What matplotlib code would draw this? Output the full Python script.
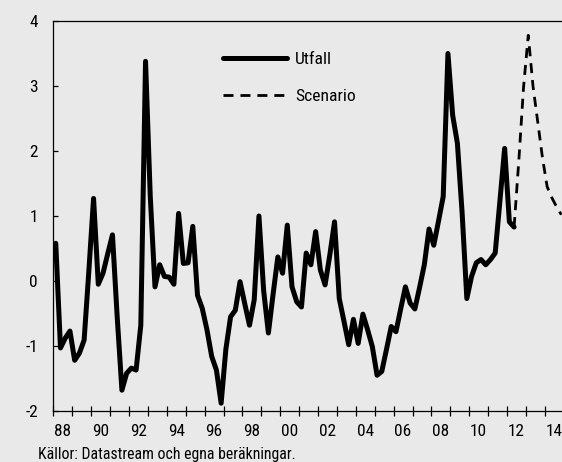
import numpy as np
import matplotlib
matplotlib.use("Agg")
import matplotlib.pyplot as plt
from matplotlib.lines import Line2D
from matplotlib import font_manager as fm


def find_narrow_font():
    # prefer a condensed sans, fall back to DejaVu Sans
    prefs = ["liberation sans narrow", "roboto condensed", "open sans condensed",
             "noto sans condensed", "dejavu sans condensed", "arial narrow"]
    cands = []
    for f in fm.fontManager.ttflist:
        name = (f.name + " " + str(f.fname)).lower()
        if f.style != "normal" or f.weight not in (400, "normal", "regular"):
            continue
        if "bold" in name or "italic" in name or "light" in name:
            continue
        if ("narrow" in name or "condensed" in name or
                str(f.stretch) in ("condensed", "semi-condensed")):
            cands.append(f)
    for p in prefs:
        for f in cands:
            key = (f.name + " " + f.fname.split("/")[-1]).lower().replace("-", " ")
            if all(w in key for w in p.split()):
                return f.fname
    if cands:
        return cands[0].fname
    return None


fname = find_narrow_font()
if fname:
    fp = fm.FontProperties(fname=fname)
    size_scale = 1.0
else:
    fp = fm.FontProperties(family="DejaVu Sans")
    size_scale = 0.8

# quarterly series, first quarter 1988 Q1
start_year = 1988
utfall = [0.58, -1.03, -0.88, -0.77, -1.22, -1.11, -0.91, 0.15,
          1.27, -0.05, 0.12, 0.42, 0.71, -0.55, -1.68, -1.42,
          -1.34, -1.37, -0.68, 3.38, 1.3, -0.09, 0.25, 0.07,
          0.06, -0.05, 1.04, 0.27, 0.28, 0.84, -0.22, -0.42,
          -0.75, -1.16, -1.37, -1.88, -1.05, -0.55, -0.45, -0.01,
          -0.35, -0.68, -0.29, 1.0, -0.15, -0.8, -0.2, 0.37,
          0.12, 0.86, -0.09, -0.32, -0.4, 0.43, 0.25, 0.76,
          0.17, -0.06, 0.4, 0.91, -0.27, -0.62, -0.98, -0.59,
          -0.96, -0.51, -0.75, -1.01, -1.45, -1.39, -1.05, -0.7,
          -0.78, -0.43, -0.09, -0.34, -0.43, -0.1, 0.25, 0.8,
          0.55, 0.92, 1.3, 3.5, 2.55, 2.12, 1.05, -0.27,
          0.07, 0.28, 0.33, 0.25, 0.33, 0.43, 1.23, 2.04,
          0.91, 0.83]
# scenario starts at last outcome quarter (2012 Q2)
scenario = [0.83, 1.85, 2.98, 3.78, 3.0, 2.45, 1.9, 1.45, 1.28, 1.14, 1.02]

year_labels = ["88", "90", "92", "94", "96", "98", "00", "02",
               "04", "06", "08", "10", "12", "14"]
y_ticks = [-2, -1, 0, 1, 2, 3, 4]
source = "Källor: Datastream och egna beräkningar."

bg = "#e9e9e9"
fs_tick = 12.4 * size_scale
fs_leg = 12.6 * size_scale
fs_src = 11.3 * size_scale

t_utf = start_year + (np.arange(len(utfall)) + 0.5) / 4
k0 = len(utfall) - 1
t_scen = start_year + (np.arange(k0, k0 + len(scenario)) + 0.5) / 4

fig = plt.figure(figsize=(5.62, 4.62), dpi=100, facecolor=bg)
ax = fig.add_axes([53.4/562, 51/462, 1 - 53.4/562, 390/462])
ax.set_facecolor(bg)

ax.plot(t_utf, utfall, color="black", lw=3.6, solid_joinstyle="round",
        solid_capstyle="round", label="Utfall", zorder=3)
ax.plot(t_scen, scenario, color="black", lw=2, linestyle=(0, (3.6, 2.5)),
        label="Scenario", zorder=2)

ax.set_xlim(1988, 2014.91)
ax.set_ylim(-2, 4)

ax.spines["right"].set_visible(False)
for s in ["left", "top", "bottom"]:
    ax.spines[s].set_linewidth(0.9)

ax.set_yticks(y_ticks)
ax.set_yticklabels([str(v) for v in y_ticks], fontproperties=fp, fontsize=fs_tick)
ax.tick_params(axis="y", direction="in", length=3.6, width=0.9, pad=11)

# year ticks at every year, labels at mid year for even years
ax.set_xticks(np.arange(1988, 2015))
ax.set_xticklabels([])
ax.tick_params(axis="x", which="major", direction="inout", length=7.5,
               width=0.9)
ax.set_xticks(np.arange(1988, 2015, 2) + 0.5, minor=True)
ax.set_xticklabels(year_labels, minor=True, fontproperties=fp, fontsize=fs_tick)
ax.tick_params(axis="x", which="minor", length=0, pad=9)

handles = [Line2D([], [], color="black", lw=3.6, solid_capstyle="round"),
           Line2D([], [], color="black", lw=2, linestyle=(0, (3.6, 2.5)))]
leg_fp = fp.copy()
leg_fp.set_size(fs_leg)
ax.legend(handles, ["Utfall", "Scenario"], loc="upper left",
          bbox_to_anchor=(0.302, 0.962), frameon=False, prop=leg_fp,
          handlelength=3.7, handletextpad=0.45, labelspacing=1.27)

fig.text(38/562, 2.5/462, source, fontproperties=fp, fontsize=fs_src,
         ha="left", va="baseline")

fig.savefig("out.png", dpi=100, facecolor=bg)
